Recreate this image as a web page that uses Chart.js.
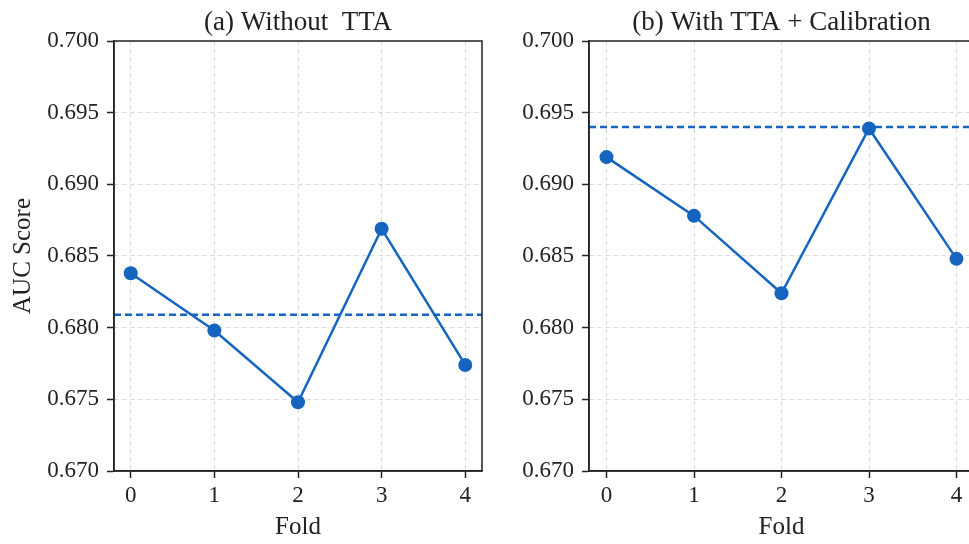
<!DOCTYPE html>
<html>
<head>
<meta charset="utf-8">
<script src="https://cdn.jsdelivr.net/npm/chart.js@4.4.1/dist/chart.umd.min.js"></script>
<style>
  html, body { margin: 0; padding: 0; background: #fff; }
  body { width: 969px; height: 544px; overflow: hidden; position: relative; }
  canvas { position: absolute; top: 0; }
  #chartA { left: 0; }
  #chartB { left: 500px; }
</style>
</head>
<body>
<canvas id="chartA" width="500" height="544"></canvas>
<canvas id="chartB" width="490" height="544"></canvas>
<script>
// values
const folds = [0, 1, 2, 3, 4];
const aucWithoutTTA = [0.6838, 0.6798, 0.6748, 0.6869, 0.6774];
const refWithoutTTA = 0.6809;
const aucWithTTA = [0.6919, 0.6878, 0.6824, 0.6939, 0.6848];
const refWithTTA = 0.6940;
const yTicks = [0.670, 0.675, 0.680, 0.685, 0.690, 0.695, 0.700];
const xRange = [-0.2, 4.2];

const BLUE = "#1565c0";
const INK = "#222";

Chart.defaults.font.family = "'Liberation Serif', 'Times New Roman', serif";
Chart.defaults.color = INK;

// matplotlib style box around the axes
const boxPlugin = {
  id: "box",
  afterDraw(chart) {
    const { ctx, chartArea: a } = chart;
    ctx.save();
    ctx.strokeStyle = INK;
    ctx.lineWidth = 1.5;
    ctx.strokeRect(a.left, a.top, a.right - a.left, a.bottom - a.top);
    ctx.restore();
  }
};

const makeChart = (id, title, values, ref, opts) => {
  const toXY = (arr) => arr.map((v, i) => ({ x: folds[i], y: v }));
  const gridStyle = {
    color: "#d8d8d8",
    lineWidth: 1,
    tickLength: 7,
    tickColor: INK,
    tickWidth: 1.5,
    tickBorderDash: []
  };
  return new Chart(document.getElementById(id).getContext("2d"), {
    type: "line",
    data: {
      datasets: [{
        data: toXY(values),
        borderColor: BLUE,
        backgroundColor: BLUE,
        borderWidth: 2.5,
        pointRadius: 7,
        pointBorderWidth: 0,
        pointBackgroundColor: BLUE,
        tension: 0,
        order: 0
      },
      {
        data: xRange.map(x => ({ x: x, y: ref })),
        borderColor: BLUE,
        borderWidth: 2.5,
        borderDash: [7, 4],
        pointRadius: 0,
        order: 1
      }]
    },
    options: {
      responsive: false,
      animation: false,
      devicePixelRatio: 1,
      layout: { padding: { left: 0, right: opts.padRight, top: 0, bottom: 0 } },
      plugins: {
        legend: { display: false },
        tooltip: { enabled: false },
        title: {
          display: true,
          text: title,
          fullSize: false,
          color: INK,
          font: { size: 27, weight: "normal" },
          padding: { top: 7, bottom: 1.6 }
        }
      },
      scales: {
        x: {
          type: "linear",
          min: xRange[0],
          max: xRange[1],
          afterBuildTicks: s => { s.ticks = folds.map(v => ({ value: v })); },
          afterFit: s => { s.height = 73; },
          ticks: { font: { size: 23 }, padding: 4, color: INK, callback: v => String(v) },
          grid: gridStyle,
          border: { color: INK, width: 1.5, dash: [4, 4] },
          title: { display: true, text: "Fold", font: { size: 25 }, color: INK, padding: { top: 0, bottom: 2 } }
        },
        y: {
          min: yTicks[0],
          max: yTicks[yTicks.length - 1],
          afterBuildTicks: s => { s.ticks = yTicks.map(v => ({ value: v })); },
          afterFit: s => { s.width = opts.yWidth; },
          ticks: { font: { size: 23 }, padding: 8, color: INK, callback: v => v.toFixed(3) },
          grid: gridStyle,
          border: { color: INK, width: 1.5, dash: [4, 4] },
          title: { display: opts.yTitle, text: "AUC Score", font: { size: 25 }, color: INK, padding: { top: 8, bottom: 0 } }
        }
      }
    },
    plugins: [boxPlugin]
  });
};

makeChart("chartA", "(a) Without  TTA", aucWithoutTTA, refWithoutTTA, { yWidth: 114, padRight: 18, yTitle: true });
makeChart("chartB", "(b) With TTA + Calibration", aucWithTTA, refWithTTA, { yWidth: 89, padRight: 16, yTitle: false });
</script>
</body>
</html>
